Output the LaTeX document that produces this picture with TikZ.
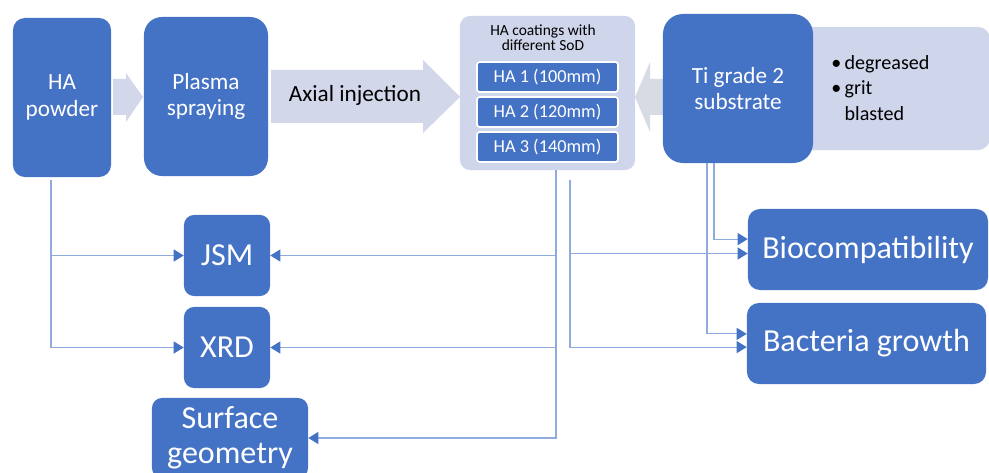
\documentclass[tikz,border=0pt]{standalone}
\usepackage{fontspec}
\setmainfont{Carlito}
\usetikzlibrary{arrows.meta}
\definecolor{boxblue}{HTML}{4472C4}
\definecolor{lav}{HTML}{CFD5EA}
\definecolor{arrlav}{HTML}{D2D7EA}
\definecolor{arrgray}{HTML}{D6DBE4}
\definecolor{linkblue}{HTML}{8FAADC}
\tikzset{
  bluebox/.style={fill=boxblue, text=white, rounded corners=0.3cm, align=center, inner sep=0pt},
  habox/.style={fill=boxblue, draw=white, line width=1.2pt, text=white, rounded corners=2pt,
    minimum width=3.525cm, minimum height=0.75cm, inner sep=0pt, font=\fontsize{13}{15}\selectfont},
  link/.style={draw=linkblue, line width=0.8pt, -{Triangle[length=0.25cm,width=0.3cm,color=boxblue]}},
  midfont/.style={font=\fontsize{16.5}{19}\selectfont},
  bigfont/.style={font=\fontsize{22.8}{25}\selectfont}
}

\begin{document}
\begin{tikzpicture}[x=0.025cm, y=-0.025cm]
\useasboundingbox (0,0) rectangle (989,473);
% block arrows
\fill[arrlav] (113,79) -- (126,79) -- (126,73) -- (143,97) -- (126,122) -- (126,115) -- (113,115) -- cycle;
\fill[arrlav] (271,70) -- (423,70) -- (423,60) -- (460,97) -- (423,133) -- (423,123) -- (271,123) -- cycle;
\fill[arrgray] (670,79) -- (650,79) -- (650,62) -- (635,97) -- (650,132) -- (650,115) -- (670,115) -- cycle;
\node[midfont] (axial) at (355,95) {Axial injection};

% top row
\node[bluebox, midfont, minimum width=2.45cm, minimum height=3.975cm] (powder) at (62,97.5) {HA\\powder};
\node[bluebox, midfont, rounded corners=0.45cm, minimum width=3.1cm, minimum height=3.975cm] (plasma) at (206,96.5) {Plasma\\spraying};
\node[fill=lav, rounded corners=0.25cm, minimum width=4.375cm, minimum height=3.85cm] (coat) at (547.5,93) {};
\node[align=center, font=\fontsize{11}{10.5}\selectfont] (title) at (543,38) {HA coatings with\\different SoD};
\node[habox] (ha1) at (547.5,77) {HA 1 (100mm)};
\node[habox] (ha2) at (547.5,112) {HA 2 (120mm)};
\node[habox] (ha3) at (547.5,147) {HA 3 (140mm)};
\node[fill=lav, rounded corners=0.3cm, minimum width=4.75cm, minimum height=3.075cm] (prep) at (895,88.5) {};
\node[anchor=west, align=left, inner sep=0pt, font=\fontsize{14.3}{18}\selectfont] (steps) at (831,88)
  {•\,degreased\\•\,grit\\\phantom{•\,}blasted};
\node[bluebox, midfont, rounded corners=0.5cm, minimum width=3.75cm, minimum height=3.725cm] (ti) at (738,88.5) {Ti grade 2\\substrate};

% results
\node[bluebox, bigfont, rounded corners=0.25cm, minimum width=2.15cm, minimum height=2.025cm] (jsm) at (227,255.5) {JSM};
\node[bluebox, bigfont, rounded corners=0.25cm, minimum width=2.15cm, minimum height=2.025cm] (xrd) at (227,347.5) {XRD};
\node[bluebox, bigfont, rounded corners=0.25cm, minimum width=3.9cm, minimum height=2cm] (surf) at (230,438) {Surface\\geometry};
\node[bluebox, bigfont, minimum width=6cm, minimum height=2.025cm] (bio) at (868,249.5) {Biocompatibility};
\node[bluebox, bigfont, minimum width=5.975cm, minimum height=2.025cm] (bact) at (866.5,343.5) {Bacteria growth};

% connectors
\draw[link] ([shift={(-0.275cm,-0.075cm)}]powder.south) |- (jsm.west);
\draw[link] ([shift={(-0.275cm,-0.075cm)}]powder.south) |- (xrd.west);
\draw[link] ([xshift=0.2125cm]coat.south) |- (jsm.east);
\draw[link] ([xshift=0.2125cm]coat.south) |- (xrd.east);
\draw[link] ([xshift=0.2125cm]coat.south) |- (surf.east);
\draw[link] ([shift={(0.5625cm,-0.25cm)}]coat.south) |- ([yshift=-0.1cm]bio.west);
\draw[link] ([shift={(0.5625cm,-0.25cm)}]coat.south) |- ([yshift=-0.09cm]bact.west);
\draw[link] ([xshift=-0.6cm]ti.south) |- ([yshift=0.26cm]bio.west);
\draw[link] ([xshift=-0.775cm]ti.south) |- ([yshift=0.24cm]bact.west);
\end{tikzpicture}
\end{document}
